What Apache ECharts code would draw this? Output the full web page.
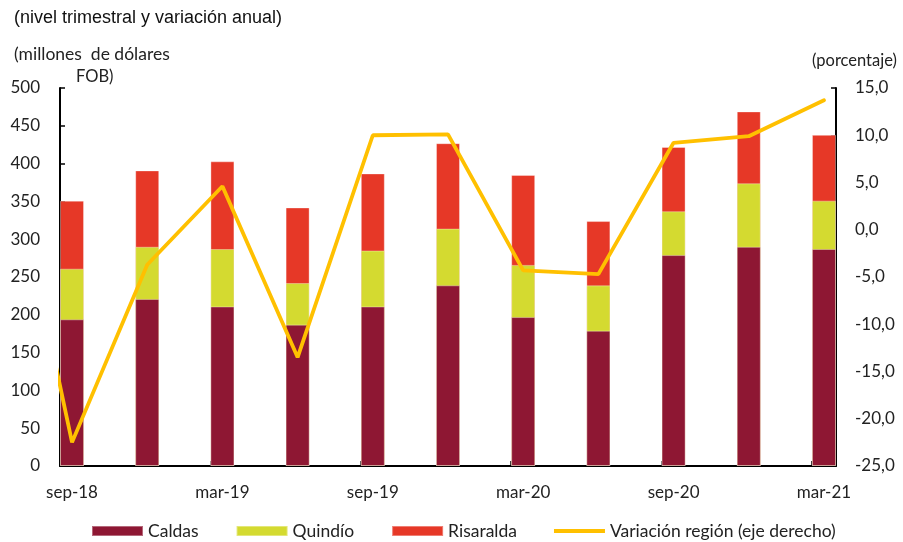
<!DOCTYPE html>
<html>
<head>
<meta charset="utf-8">
<script src="https://cdn.jsdelivr.net/npm/echarts@6/dist/echarts.min.js"></script>
<style>html,body{margin:0;padding:0;background:#fff}#c{width:903px;height:542px}</style>
</head>
<body>
<div id="c"></div>
<script>
const categories = ['sep-18','dic-18','mar-19','jun-19','sep-19','dic-19','mar-20','jun-20','sep-20','dic-20','mar-21'];
const caldas    = [194, 221, 211, 187, 211, 239, 197, 179, 279, 290, 287];
const quindio   = [ 67,  69,  76,  55,  74,  75,  69,  60,  58,  84,  64];
const risaralda = [ 90, 101, 116, 100, 102, 113, 119,  85,  85,  95,  87];
const variacion = [-22.5, -3.7, 4.6, -13.5, 10.0, 10.1, -4.3, -4.7, 9.2, 9.9, 13.7];
const variacionPrevia = 15.0; // jun-18, fuera del rango visible
const leftTicks = [0, 50, 100, 150, 200, 250, 300, 350, 400, 450, 500];
const rightTicks = [-25, -20, -15, -10, -5, 0, 5, 10, 15];

const FONT = 'Lato';
const half = 0.16;
const chart = echarts.init(document.getElementById('c'), null, {renderer: 'canvas'});
const idx = (arr) => arr.map((v, i) => [i, v]);
// stacked tops (bars overlap; drawn tallest first)
const topCaldas = caldas.slice();
const topQuindio = caldas.map((v, i) => v + quindio[i]);
const topRisaralda = caldas.map((v, i) => v + quindio[i] + risaralda[i]);
const labelIdx = categories.map((c, i) => i).filter(i => i % 2 === 0);

const C_CAL = '#8E1733', C_QUI = '#D4DA30', C_RIS = '#E63827', C_LINE = '#FFC000';
const border = 'rgba(255,255,255,0.35)';
const lineIcon = 'path://M0,0 L0.01,0 M0,3 L51,3 L51,7 L0,7 Z M51,10 L50.99,10';

chart.setOption({
  animation: false,
  grid: {left: 60, right: 67, top: 88, bottom: 76, containLabel: false},
  xAxis: {
    type: 'value', min: -half, max: categories.length - 1 + half,
    axisLine: {show: true, onZero: false, lineStyle: {color: '#000', width: 2}},
    axisTick: {show: true, inside: true, length: 5, lineStyle: {color: '#000', width: 1.5},
      customValues: labelIdx.map(i => i - half)},
    axisLabel: {show: true, customValues: labelIdx, formatter: v => categories[Math.round(v)] || '',
      fontFamily: FONT, fontSize: 17, color: '#222', margin: 18},
    splitLine: {show: false}
  },
  yAxis: [
    {type: 'value', min: leftTicks[0], max: leftTicks[leftTicks.length - 1], interval: 50, position: 'left',
      axisLine: {show: true, onZero: false, lineStyle: {color: '#000', width: 2}},
      axisTick: {show: true, inside: true, length: 5, lineStyle: {color: '#000', width: 1.5}},
      axisLabel: {fontFamily: FONT, fontSize: 17, color: '#222', margin: 20},
      splitLine: {show: false}},
    {type: 'value', min: rightTicks[0], max: rightTicks[rightTicks.length - 1], interval: 5, position: 'right',
      axisLine: {show: true, onZero: false, lineStyle: {color: '#000', width: 2}},
      axisTick: {show: true, inside: true, length: 5, lineStyle: {color: '#000', width: 1.5}},
      axisLabel: {fontFamily: FONT, fontSize: 17, color: '#222', margin: 19,
        formatter: v => v.toFixed(1).replace('.', ',')},
      splitLine: {show: false}}
  ],
  legend: {
    bottom: 2, left: 91, padding: 0, itemWidth: 51, itemHeight: 10, itemGap: 37,
    textStyle: {fontFamily: FONT, fontSize: 17.5, color: '#222'},
    data: [
      {name: 'Caldas', icon: 'rect'},
      {name: 'Quindío', icon: 'rect'},
      {name: 'Risaralda', icon: 'rect'},
      {name: 'Variación región (eje derecho)', icon: lineIcon}
    ]
  },
  series: [
    {name: 'Risaralda', type: 'bar', barWidth: 24, barGap: '-100%', data: idx(topRisaralda),
      itemStyle: {color: C_RIS, borderColor: border, borderWidth: 1}},
    {name: 'Quindío', type: 'bar', barWidth: 24, barGap: '-100%', data: idx(topQuindio),
      itemStyle: {color: C_QUI, borderColor: border, borderWidth: 1}},
    {name: 'Caldas', type: 'bar', barWidth: 24, barGap: '-100%', data: idx(topCaldas),
      itemStyle: {color: C_CAL, borderColor: border, borderWidth: 1}},
    {name: 'Variación región (eje derecho)', type: 'line', yAxisIndex: 1, clip: true,
      symbol: 'none', data: [[-1, variacionPrevia]].concat(idx(variacion)),
      lineStyle: {color: C_LINE, width: 3.8, cap: 'round'}, itemStyle: {color: C_LINE}}
  ],
  graphic: [
    {type: 'text', left: 14, top: 9, style: {text: '(nivel trimestral y variación anual)', font: '18px "Liberation Sans"', fill: '#111'}},
    {type: 'text', left: 14, top: 45, style: {text: '(millones  de dólares', font: '17.5px Lato', fill: '#222'}},
    {type: 'text', left: 76, top: 68, style: {text: 'FOB)', font: '16.5px Lato', fill: '#222'}},
    {type: 'text', left: 812, top: 52, style: {text: '(porcentaje)', font: '16.5px Lato', fill: '#222'}}
  ]
});
</script>
</body>
</html>
